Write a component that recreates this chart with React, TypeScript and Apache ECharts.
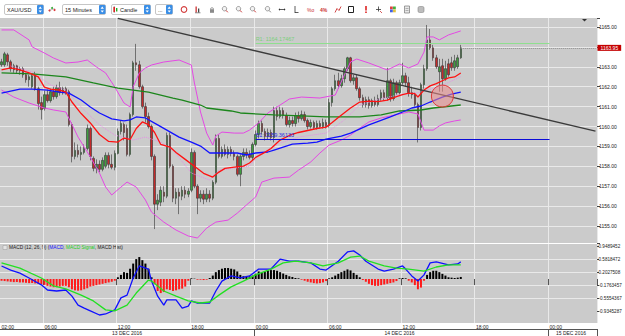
import React, { useEffect, useRef } from 'react';
import * as echarts from 'echarts';

// ---------- time categories (15-minute bars, with the daily trading break) ----------
const sessions: [string, string, string][] = [
  ['2016-12-13', '02:30', '21:45'],
  ['2016-12-13', '22:45', '23:45'],
  ['2016-12-14', '00:00', '23:45'],
  ['2016-12-15', '00:00', '03:45'],
];
const gridHours = ['00:00', '06:00', '12:00', '18:00'];
const monthNames: Record<string, string> = { '12': 'DEC' };

function toMin(t: string) {
  const [h, m] = t.split(':').map(Number);
  return h * 60 + m;
}
function pad(n: number) {
  return (n < 10 ? '0' : '') + n;
}
const times: string[] = [];
for (const [d, a, b] of sessions) {
  for (let m = toMin(a); m <= toMin(b); m += 15) {
    times.push(`${d} ${pad(Math.floor(m / 60))}:${pad(m % 60)}`);
  }
}

// ---------- XAU/USD 15-minute candles: [open, close, low, high] ----------
const candles: [number, number, number, number][] = [
  [1163.1, 1163.25, 1163.0, 1163.4], [1163.1, 1163.65, 1163.0, 1163.75], [1163.6, 1163.25, 1163.05, 1163.7],
  [1163.25, 1162.9, 1162.75, 1163.35], [1162.85, 1163.05, 1162.7, 1163.15], [1163.05, 1162.8, 1162.65, 1163.1],
  [1162.8, 1162.9, 1162.6, 1163.0], [1162.9, 1162.6, 1162.45, 1163.0], [1162.6, 1162.35, 1162.2, 1162.7],
  [1162.35, 1162.5, 1162.0, 1162.6], [1162.0, 1162.55, 1161.9, 1162.65], [1162.55, 1161.9, 1161.8, 1162.75],
  [1161.9, 1161.15, 1160.85, 1162.0], [1161.2, 1160.85, 1160.35, 1161.5], [1160.9, 1161.6, 1160.8, 1161.8],
  [1161.6, 1161.3, 1161.2, 1161.85], [1161.3, 1161.75, 1161.2, 1161.9], [1161.75, 1161.5, 1161.35, 1162.0],
  [1161.5, 1161.95, 1161.4, 1162.1], [1161.95, 1161.7, 1161.55, 1162.25], [1161.7, 1161.9, 1161.6, 1162.0],
  [1161.9, 1161.75, 1161.6, 1162.0], [1161.75, 1160.1, 1160.0, 1161.85], [1160.1, 1158.5, 1158.2, 1160.2],
  [1158.5, 1158.8, 1158.35, 1159.2], [1158.8, 1158.6, 1158.45, 1159.1], [1158.6, 1158.7, 1158.3, 1159.0],
  [1158.7, 1158.9, 1158.6, 1159.1], [1158.9, 1159.9, 1158.8, 1160.1], [1159.9, 1158.5, 1158.3, 1160.0],
  [1158.4, 1157.9, 1157.75, 1158.5], [1157.9, 1158.1, 1157.65, 1158.35], [1158.1, 1157.85, 1157.7, 1158.3],
  [1157.85, 1158.3, 1157.75, 1158.45], [1158.0, 1158.55, 1157.9, 1158.7], [1158.55, 1158.1, 1157.9, 1158.7],
  [1158.1, 1157.95, 1157.85, 1158.6], [1157.95, 1158.65, 1157.8, 1158.8], [1158.65, 1159.75, 1158.6, 1159.9],
  [1159.75, 1160.15, 1159.6, 1160.3], [1160.1, 1159.7, 1159.3, 1160.2], [1159.9, 1158.6, 1158.5, 1160.1],
  [1158.6, 1160.6, 1158.5, 1160.7], [1160.6, 1163.2, 1160.5, 1163.3], [1163.2, 1163.1, 1162.8, 1164.15],
  [1163.1, 1162.0, 1161.9, 1163.3], [1162.0, 1161.0, 1160.9, 1162.1], [1161.0, 1160.5, 1160.2, 1161.2],
  [1160.5, 1160.0, 1159.9, 1160.7], [1160.0, 1158.5, 1158.3, 1160.1], [1158.5, 1156.1, 1154.85, 1158.6],
  [1156.1, 1156.3, 1155.8, 1156.6], [1156.2, 1156.8, 1156.0, 1157.0], [1156.7, 1156.5, 1156.2, 1157.0],
  [1156.5, 1159.55, 1156.4, 1159.7], [1159.55, 1158.0, 1157.9, 1159.7], [1158.0, 1156.4, 1156.2, 1158.1],
  [1156.4, 1156.7, 1156.1, 1156.9], [1156.7, 1156.5, 1155.6, 1156.9], [1156.5, 1156.8, 1156.3, 1157.0],
  [1156.8, 1156.6, 1156.4, 1157.0], [1156.6, 1156.75, 1156.45, 1156.9], [1156.8, 1158.7, 1156.7, 1158.9],
  [1158.7, 1157.0, 1156.9, 1158.8], [1157.0, 1156.4, 1155.6, 1157.1], [1156.4, 1156.6, 1156.2, 1156.8],
  [1156.6, 1156.35, 1156.1, 1156.8], [1156.35, 1156.6, 1156.2, 1156.9], [1156.6, 1156.4, 1156.2, 1156.8],
  [1156.4, 1157.2, 1156.3, 1157.3], [1157.2, 1159.4, 1157.1, 1159.6], [1159.4, 1158.5, 1158.4, 1159.6],
  [1158.5, 1158.85, 1158.4, 1159.0], [1158.85, 1158.6, 1158.5, 1159.1], [1158.6, 1158.85, 1158.4, 1159.0],
  [1158.85, 1158.65, 1158.5, 1159.0], [1158.65, 1158.5, 1158.3, 1158.8], [1158.5, 1157.6, 1157.5, 1158.6],
  [1157.6, 1158.5, 1157.0, 1158.6], [1158.5, 1158.7, 1158.3, 1158.9], [1158.7, 1158.6, 1158.4, 1158.9],
  [1158.6, 1158.45, 1158.35, 1158.8], [1158.45, 1159.1, 1158.3, 1159.2], [1159.1, 1159.6, 1159.0, 1159.8],
  [1159.6, 1160.15, 1159.4, 1160.3], [1160.15, 1159.75, 1159.6, 1160.3], [1159.75, 1159.5, 1159.3, 1159.9],
  [1159.5, 1159.7, 1159.35, 1159.9], [1159.7, 1159.45, 1159.3, 1159.85], [1159.45, 1160.8, 1159.2, 1161.0],
  [1160.8, 1160.5, 1160.3, 1161.0], [1160.5, 1160.8, 1160.4, 1161.0], [1160.8, 1160.55, 1160.4, 1160.95],
  [1160.55, 1160.1, 1160.0, 1160.7], [1160.1, 1160.3, 1159.95, 1160.5], [1160.3, 1160.15, 1160.0, 1160.5],
  [1160.15, 1160.55, 1160.0, 1160.7], [1160.55, 1160.4, 1160.2, 1160.75], [1160.4, 1160.6, 1160.3, 1160.8],
  [1160.6, 1160.3, 1160.2, 1160.75], [1160.3, 1160.0, 1159.85, 1160.4], [1160.0, 1160.2, 1159.9, 1160.35],
  [1160.2, 1159.95, 1159.85, 1160.3], [1159.95, 1160.15, 1159.85, 1160.3], [1160.15, 1160.0, 1159.9, 1160.3],
  [1160.0, 1160.2, 1159.9, 1160.4], [1160.2, 1160.05, 1159.9, 1160.35], [1160.05, 1161.2, 1159.95, 1161.4],
  [1161.2, 1161.9, 1161.0, 1162.0], [1161.9, 1162.3, 1161.8, 1162.6], [1162.3, 1162.05, 1161.9, 1162.7],
  [1162.05, 1162.4, 1161.95, 1162.6], [1162.4, 1162.9, 1162.2, 1163.0], [1162.9, 1163.45, 1162.8, 1163.5],
  [1163.45, 1162.3, 1162.2, 1163.5], [1162.3, 1162.45, 1162.1, 1162.6], [1162.45, 1161.9, 1161.8, 1162.6],
  [1161.9, 1161.45, 1161.3, 1162.0], [1161.45, 1161.1, 1160.95, 1161.6], [1161.1, 1161.35, 1160.95, 1161.5],
  [1161.35, 1161.05, 1160.9, 1161.5], [1161.05, 1161.3, 1160.95, 1161.4], [1161.3, 1161.1, 1161.0, 1161.5],
  [1161.1, 1161.4, 1161.0, 1161.6], [1161.4, 1161.7, 1161.3, 1161.85], [1161.7, 1161.45, 1161.3, 1161.85],
  [1161.45, 1162.3, 1161.3, 1162.95], [1162.3, 1161.4, 1161.25, 1162.4], [1161.4, 1162.2, 1161.3, 1162.4],
  [1162.2, 1161.7, 1161.6, 1162.3], [1161.7, 1162.2, 1161.6, 1162.35], [1162.2, 1162.55, 1162.1, 1163.2],
  [1162.55, 1162.2, 1162.0, 1162.7], [1162.2, 1161.7, 1161.5, 1162.5], [1161.7, 1161.6, 1161.4, 1162.0],
  [1161.6, 1161.1, 1161.0, 1161.7], [1161.1, 1159.95, 1159.2, 1161.2], [1159.95, 1162.1, 1159.8, 1162.2],
  [1162.1, 1162.9, 1161.9, 1163.1], [1162.9, 1164.35, 1162.8, 1165.1], [1164.35, 1163.95, 1163.85, 1164.9],
  [1163.95, 1163.45, 1163.3, 1164.1], [1163.45, 1163.0, 1162.9, 1163.6], [1162.75, 1163.0, 1161.75, 1163.4],
  [1163.05, 1162.4, 1161.75, 1163.4], [1162.4, 1162.9, 1162.3, 1163.3], [1163.15, 1162.6, 1162.5, 1163.4],
  [1163.2, 1162.95, 1162.8, 1163.5], [1162.95, 1163.3, 1162.8, 1163.6], [1163.0, 1163.45, 1162.9, 1163.6],
  [1163.45, 1163.95, 1163.4, 1164.1],
];

// ---------- overlays: [bar index, value] ----------
const maRed: [number, number][] = [
  [0, 1162.84], [3, 1162.94], [6, 1162.84], [9, 1162.69], [12, 1162.49], [14, 1161.98], [16, 1161.88], [19, 1161.83],
  [21, 1161.73], [23, 1161.23], [26, 1160.65], [29, 1160.18], [32, 1159.6], [35, 1159.25], [38, 1159.22], [40, 1159.42],
  [42, 1159.35], [44, 1159.9], [46, 1160.23], [48, 1160.1], [50, 1159.7], [52, 1159.1], [55, 1158.97], [57, 1158.7],
  [60, 1158.35], [63, 1158.0], [66, 1157.65], [69, 1157.46], [71, 1157.71], [73, 1157.9], [76, 1157.96], [79, 1158.01],
  [81, 1158.17], [83, 1158.45], [86, 1158.7], [88, 1158.9], [91, 1159.32], [94, 1159.55], [97, 1159.7], [100, 1159.8],
  [103, 1159.9], [106, 1159.97], [108, 1160.2], [110, 1160.45], [114, 1160.93], [117, 1161.23], [120, 1161.28],
  [123, 1161.25], [126, 1161.33], [129, 1161.5], [131, 1161.6], [133, 1161.68], [135, 1161.65], [136, 1161.48],
  [138, 1161.83], [140, 1162.04], [142, 1162.15], [144, 1162.3], [146, 1162.44], [148, 1162.49], [150, 1162.69],
];
const maBlue: [number, number][] = [
  [0, 1161.68], [3, 1161.78], [6, 1161.88], [10, 1161.88], [15, 1161.83], [19, 1161.73], [22, 1161.68], [26, 1161.33],
  [29, 1160.98], [32, 1160.68], [36, 1160.38], [40, 1160.28], [42, 1160.33], [44, 1160.48], [47, 1160.43], [51, 1160.08],
  [54, 1159.82], [58, 1159.47], [62, 1159.22], [65, 1159.02], [68, 1158.67], [72, 1158.67], [77, 1158.67], [80, 1158.57],
  [83, 1158.67], [87, 1158.72], [89, 1158.82], [92, 1158.97], [95, 1159.12], [100, 1159.17], [103, 1159.22],
  [106, 1159.37], [111, 1159.52], [114, 1159.67], [120, 1160.08], [127, 1160.48], [131, 1160.73], [134, 1160.93],
  [137, 1161.03], [140, 1161.23], [144, 1161.48], [147, 1161.63], [150, 1161.73],
];
const maGreen: [number, number][] = [
  [0, 1162.69], [10, 1162.64], [21, 1162.49], [30, 1162.19], [38, 1161.93], [48, 1161.73], [56, 1161.43], [59, 1161.33],
  [65, 1161.08], [67, 1160.93], [75, 1160.78], [78, 1160.68], [89, 1160.58], [98, 1160.53], [106, 1160.48],
  [117, 1160.48], [124, 1160.58], [130, 1160.78], [137, 1160.83], [141, 1160.93], [150, 1161.08],
];
const bbUpper: [number, number][] = [
  [0, 1164.85], [4, 1164.85], [9, 1164.35], [10, 1164.0], [14, 1163.69], [17, 1163.44], [21, 1163.19], [25, 1163.24],
  [28, 1163.34], [31, 1162.99], [34, 1162.69], [37, 1161.98], [40, 1161.18], [42, 1160.98], [43, 1162.0], [45, 1162.69],
  [47, 1162.94], [49, 1163.09], [53, 1163.24], [58, 1163.34], [62, 1163.09], [63, 1162.19], [65, 1160.73], [67, 1159.67],
  [69, 1159.07], [70, 1159.52], [72, 1159.72], [76, 1159.67], [79, 1159.67], [81, 1159.82], [84, 1160.18], [87, 1160.68],
  [91, 1161.08], [94, 1161.38], [98, 1161.48], [104, 1161.43], [109, 1161.58], [112, 1162.59], [114, 1163.24],
  [116, 1163.39], [120, 1163.19], [126, 1162.84], [130, 1163.14], [133, 1162.94], [136, 1163.14], [138, 1163.74],
  [139, 1164.5], [141, 1164.5], [143, 1164.35], [146, 1164.6], [148, 1164.7], [150, 1164.8],
];
const bbLower: [number, number][] = [
  [0, 1161.83], [4, 1161.48], [9, 1161.18], [14, 1160.93], [17, 1160.83], [21, 1160.73], [25, 1159.47], [29, 1158.47],
  [32, 1157.66], [34, 1156.96], [36, 1156.56], [39, 1156.96], [41, 1157.21], [44, 1156.96], [47, 1156.31], [49, 1155.7],
  [53, 1155.2], [57, 1154.8], [61, 1154.5], [64, 1154.4], [67, 1154.9], [70, 1155.2], [74, 1155.3], [77, 1155.65],
  [80, 1156.06], [83, 1156.46], [85, 1157.21], [89, 1157.41], [94, 1157.46], [97, 1157.81], [101, 1158.22],
  [104, 1158.67], [107, 1159.07], [111, 1159.32], [114, 1159.57], [117, 1159.92], [120, 1160.23], [124, 1160.43],
  [127, 1160.53], [130, 1160.63], [133, 1160.73], [136, 1160.63], [137, 1160.23], [138, 1159.82], [141, 1159.82],
  [143, 1160.03], [145, 1160.18], [148, 1160.28], [150, 1160.33],
];
const bbMiddle: [number, number][] = [
  [3, 1163.04], [10, 1162.74], [16, 1162.09], [21, 1161.83], [26, 1160.98], [32, 1160.08], [37, 1159.57], [43, 1159.32],
  [47, 1159.47], [52, 1159.22], [56, 1158.82], [62, 1157.66], [68, 1157.31], [71, 1157.81], [81, 1158.01],
  [84, 1158.57], [91, 1159.17], [97, 1159.47], [106, 1159.67], [112, 1160.33], [117, 1161.08], [124, 1161.4],
  [130, 1161.6], [136, 1161.7], [143, 1162.0], [150, 1162.5],
];

// ---------- MACD (12, 26, 9) ----------
const macdLine: [number, number][] = [
  [0, 0.38], [3, 0.26], [6, 0.17], [9, 0.03], [13, -0.17], [15, -0.32], [18, -0.35], [21, -0.32], [23, -0.5], [25, -0.76],
  [27, -0.85], [29, -0.93], [32, -1.05], [34, -1.02], [37, -0.9], [39, -0.55], [41, -0.47], [43, 0.03], [45, 0.38],
  [48, 0.29], [49, -0.06], [51, -0.5], [53, -0.76], [54, -0.61], [57, -0.61], [59, -0.85], [61, -0.79], [62, -0.64],
  [64, -0.7], [68, -0.7], [70, -0.35], [72, -0.06], [75, 0.09], [78, 0.03], [81, 0.09], [84, 0.29], [88, 0.29],
  [91, 0.58], [94, 0.52], [97, 0.52], [101, 0.47], [104, 0.29], [106, 0.26], [110, 0.52], [113, 0.79], [115, 0.82],
  [117, 0.7], [119, 0.52], [123, 0.29], [125, 0.23], [128, 0.29], [131, 0.38], [132, 0.29], [134, 0.09], [136, -0.06],
  [138, 0.12], [140, 0.47], [142, 0.5], [146, 0.41], [149, 0.44], [150, 0.5],
];
const macdSignal: [number, number][] = [
  [0, 0.47], [6, 0.32], [13, 0.03], [17, -0.2], [21, -0.29], [26, -0.47], [30, -0.64], [34, -0.9], [37, -0.93],
  [41, -0.76], [44, -0.41], [48, -0.03], [49, -0.06], [53, -0.35], [57, -0.5], [61, -0.64], [65, -0.7], [68, -0.67],
  [71, -0.47], [75, -0.23], [79, -0.06], [83, 0.12], [88, 0.29], [92, 0.47], [96, 0.52], [101, 0.47], [105, 0.38],
  [110, 0.47], [114, 0.64], [117, 0.67], [120, 0.52], [125, 0.38], [129, 0.32], [133, 0.29], [138, 0.23], [142, 0.35],
  [146, 0.41], [150, 0.41],
];
const macdHist: number[] = [
  -0.05, -0.06, -0.07, -0.08, -0.09, -0.09, -0.1, -0.1, -0.11, -0.12,
  -0.12, -0.13, -0.14, -0.15, -0.17, -0.2, -0.22, -0.24, -0.24, -0.22,
  -0.2, -0.2, -0.24, -0.3, -0.33, -0.34, -0.33, -0.3, -0.27, -0.22,
  -0.2, -0.18, -0.16, -0.14, -0.12, -0.1, -0.08, -0.05, 0.05, 0.12,
  0.2, 0.18, 0.3, 0.45, 0.58, 0.64, 0.55, 0.45, 0.3, 0.05,
  -0.15, -0.35, -0.41, -0.38, -0.3, -0.32, -0.35, -0.33, -0.3, -0.28,
  -0.22, -0.05, 0.02, 0.01, -0.02, -0.02, -0.03, -0.02, 0.03, 0.1,
  0.2, 0.26, 0.3, 0.32, 0.32, 0.3, 0.28, 0.22, 0.12, 0.08,
  0.06, 0.08, 0.1, 0.15, 0.22, 0.2, 0.22, 0.25, 0.26, 0.26,
  0.24, 0.2, 0.16, 0.12, 0.08, 0.06, 0.03, 0.02, -0.02, -0.05,
  -0.08, -0.1, -0.12, -0.13, -0.12, -0.1, -0.06, 0.02, 0.05, 0.1,
  0.15, 0.2, 0.24, 0.28, 0.25, 0.18, 0.12, 0.05, -0.03, -0.08,
  -0.14, -0.18, -0.2, -0.2, -0.18, -0.16, -0.14, -0.12, -0.1, -0.06,
  0.02, 0.03, 0.02, -0.05, -0.1, -0.18, -0.3, -0.25, -0.05, 0.12,
  0.2, 0.24, 0.24, 0.2, 0.15, 0.1, 0.05, 0.04, 0.03, 0.04,
  0.06,
];
const macdTickLabels = ['-0.9345287', '-0.5554367', '-0.1763457', '0.2027508', '0.5818472', '0.9489452'];
const macdTicks = macdTickLabels.map(Number);

// ---------- drawn objects ----------
const levels = [
  { name: 'R1', value: 1164.17467, from: 83, to: 179, color: '#8fdf8f', text: '#7ccf7c' },
  { name: 'S1', value: 1159.36133, from: 83, to: 179, color: '#0b0bd8', text: '#2a2ae0' },
];
const trendLine: [number, number][] = [[38, 1165.43], [194, 1159.77]];
const circleMark: [number, number] = [144, 1161.53];

const FONT = '"Liberation Sans", Arial, sans-serif';

function buildToolbar(): any[] {
  const els: any[] = [];
  const controls = [
    { text: 'XAU/USD', x: 4, w: 39 },
    { text: '15 Minutes', x: 62, w: 43 },
    { text: 'Candle', x: 111, w: 39 },
    { text: '...', x: 155, w: 17 },
  ];
  controls.forEach((c, k) => {
    els.push({ type: 'rect', shape: { x: c.x + 0.5, y: 4.5, width: c.w, height: 10, r: 1.5 }, style: { fill: '#ffffff', stroke: '#b8b8b8', lineWidth: 0.8 } });
    els.push({ type: 'text', x: c.x + (k === 2 ? 9 : 3), y: 9.6, style: { text: c.text, fill: '#222', font: `5.5px ${FONT}`, verticalAlign: 'middle' } });
    const bx = c.x + c.w - 6;
    els.push({ type: 'rect', shape: { x: bx, y: 5, width: 6.5, height: 9, r: 1 }, style: { fill: '#3a8ee6' } });
    els.push({ type: 'polygon', shape: { points: [[bx + 1.6, 8.8], [bx + 4.9, 8.8], [bx + 3.25, 6.6]] }, style: { fill: '#fff' } });
    els.push({ type: 'polygon', shape: { points: [[bx + 1.6, 10.4], [bx + 4.9, 10.4], [bx + 3.25, 12.6]] }, style: { fill: '#fff' } });
  });
  // candle icon in the "Candle" box
  els.push({ type: 'line', shape: { x1: 114.2, y1: 6, x2: 114.2, y2: 13 }, style: { stroke: '#444', lineWidth: 0.5 } });
  els.push({ type: 'rect', shape: { x: 113.4, y: 7, width: 1.6, height: 5 }, style: { fill: '#d22' } });
  els.push({ type: 'rect', shape: { x: 116, y: 8, width: 1.4, height: 3.5 }, style: { fill: '#2a2' } });
  // small indicator icon next to the symbol box
  els.push({ type: 'circle', shape: { cx: 49.5, cy: 10.5, r: 1 }, style: { fill: '#d33' } });
  els.push({ type: 'circle', shape: { cx: 52, cy: 8, r: 1 }, style: { fill: '#3a3' } });
  els.push({ type: 'circle', shape: { cx: 54.5, cy: 10, r: 1 }, style: { fill: '#d33' } });
  els.push({ type: 'line', shape: { x1: 49.5, y1: 10.5, x2: 54.5, y2: 8.5 }, style: { stroke: '#777', lineWidth: 0.5 } });

  const xs = [184, 198, 212, 225, 239, 253, 268, 282, 296, 310, 323, 338, 351, 366, 379, 393, 407, 421];
  const cy = 9.5;
  xs.forEach((x, k) => {
    if (k === 0) {
      els.push({ type: 'circle', shape: { cx: x, cy, r: 2.8 }, style: { fill: 'none', stroke: '#d23a3a', lineWidth: 1.1 } });
    } else if (k === 1) {
      els.push({ type: 'rect', shape: { x: x - 2.5, y: 6.5, width: 1.3, height: 6 }, style: { fill: '#c33' } });
      els.push({ type: 'rect', shape: { x: x, y: 8.5, width: 1.3, height: 4 }, style: { fill: '#444' } });
      els.push({ type: 'line', shape: { x1: x - 3, y1: 12.8, x2: x + 2.5, y2: 12.8 }, style: { stroke: '#444', lineWidth: 0.6 } });
    } else if (k === 2) {
      els.push({ type: 'rect', shape: { x: x - 2, y: 9.2, width: 4, height: 3.6 }, style: { fill: '#8a8a8a' } });
      els.push({ type: 'arc', shape: { cx: x, cy: 9.2, r: 1.5, startAngle: Math.PI, endAngle: 2 * Math.PI }, style: { stroke: '#8a8a8a', lineWidth: 0.8, fill: 'none' } });
    } else if (k >= 3 && k <= 6) {
      const col = k === 6 ? '#888' : '#c83a3a';
      els.push({ type: 'circle', shape: { cx: x - 0.5, cy: cy - 0.8, r: 2.2 }, style: { fill: '#f3f3f3', stroke: '#777', lineWidth: 0.7 } });
      els.push({ type: 'line', shape: { x1: x + 1, y1: cy + 0.8, x2: x + 2.8, y2: cy + 2.8 }, style: { stroke: col, lineWidth: 1 } });
    } else if (k === 7) {
      els.push({ type: 'line', shape: { x1: x - 3, y1: cy, x2: x + 3, y2: cy }, style: { stroke: '#333', lineWidth: 0.8 } });
      els.push({ type: 'polygon', shape: { points: [[x - 3.5, cy], [x - 2, cy - 1.3], [x - 2, cy + 1.3]] }, style: { fill: '#333' } });
      els.push({ type: 'polygon', shape: { points: [[x + 3.5, cy], [x + 2, cy - 1.3], [x + 2, cy + 1.3]] }, style: { fill: '#333' } });
    } else if (k === 8) {
      els.push({ type: 'line', shape: { x1: x - 1, y1: cy - 3.5, x2: x - 1, y2: cy + 3.5 }, style: { stroke: '#333', lineWidth: 0.8 } });
      els.push({ type: 'line', shape: { x1: x - 1, y1: cy + 3, x2: x + 2.5, y2: cy + 3 }, style: { stroke: '#333', lineWidth: 0.8 } });
    } else if (k === 9) {
      els.push({ type: 'text', x: x - 3, y: cy, style: { text: '%o', fill: '#c33', font: `5px ${FONT}`, verticalAlign: 'middle' } });
    } else if (k === 10) {
      els.push({ type: 'text', x: x - 3, y: cy, style: { text: '4%', fill: '#c33', font: `bold 5px ${FONT}`, verticalAlign: 'middle' } });
    } else if (k === 11) {
      els.push({ type: 'polyline', shape: { points: [[x - 3, cy + 3], [x - 1, cy - 1], [x + 1, cy + 1], [x + 3, cy - 3]] }, style: { stroke: '#c33', lineWidth: 0.9, fill: 'none' } });
    } else if (k === 12) {
      els.push({ type: 'rect', shape: { x: x - 2.5, y: cy - 3, width: 5, height: 6 }, style: { fill: '#fff', stroke: '#222', lineWidth: 1 } });
    } else if (k === 13) {
      els.push({ type: 'rect', shape: { x: x - 0.8, y: cy - 3.5, width: 1.6, height: 4.5 }, style: { fill: '#d22' } });
      els.push({ type: 'rect', shape: { x: x - 0.8, y: cy + 2, width: 1.6, height: 1.5 }, style: { fill: '#d22' } });
    } else if (k === 14) {
      els.push({ type: 'line', shape: { x1: x - 3, y1: cy, x2: x + 2, y2: cy }, style: { stroke: '#333', lineWidth: 0.8 } });
      els.push({ type: 'line', shape: { x1: x - 0.5, y1: cy - 3, x2: x - 0.5, y2: cy + 2 }, style: { stroke: '#333', lineWidth: 0.8 } });
      els.push({ type: 'line', shape: { x1: x + 1, y1: cy + 1.5, x2: x + 3, y2: cy + 3.5 }, style: { stroke: '#c33', lineWidth: 0.8 } });
    } else if (k === 15) {
      const cols = ['#e04040', '#40b040', '#4060e0', '#e0c040'];
      cols.forEach((c, j) => {
        els.push({ type: 'rect', shape: { x: x - 3 + (j % 2) * 3, y: cy - 3 + Math.floor(j / 2) * 3, width: 2.8, height: 2.8 }, style: { fill: c } });
      });
    } else if (k === 16) {
      els.push({ type: 'rect', shape: { x: x - 2.5, y: cy - 3.5, width: 5, height: 7 }, style: { fill: '#e8e8e8', stroke: '#777', lineWidth: 0.7 } });
      els.push({ type: 'line', shape: { x1: x - 1.5, y1: cy - 1, x2: x + 1.5, y2: cy - 1 }, style: { stroke: '#777', lineWidth: 0.5 } });
      els.push({ type: 'line', shape: { x1: x - 1.5, y1: cy + 1, x2: x + 1.5, y2: cy + 1 }, style: { stroke: '#777', lineWidth: 0.5 } });
    } else if (k === 17) {
      els.push({ type: 'rect', shape: { x: x - 3, y: cy - 3, width: 6, height: 6, r: 1.5 }, style: { fill: '#bdbdbd', stroke: '#888', lineWidth: 0.6 } });
    }
  });
  // dropdown arrow at the top right of the chart area
  els.push({ type: 'polygon', shape: { points: [[582, 19], [587, 19], [584.5, 21.5]] }, style: { fill: '#333' } });
  return els;
}

export default function App() {
  const ref = useRef<HTMLDivElement>(null);

  useEffect(() => {
    if (!ref.current) return;
    const chart = echarts.init(ref.current, undefined, { renderer: 'svg' });

    const isGridIdx = (i: number, v: string) => i > 0 && gridHours.includes(String(v).slice(11));
    const isLabelIdx = (i: number, v: string) => i === 0 || gridHours.includes(String(v).slice(11));
    const dayOf = (v: string) => String(v).slice(0, 10);
    const dayStart = (i: number) => i > 0 && dayOf(times[i]) !== dayOf(times[i - 1]);
    const dayMid = new Set<number>();
    {
      let s = 0;
      for (let i = 1; i <= times.length; i++) {
        if (i === times.length || dayOf(times[i]) !== dayOf(times[s])) {
          dayMid.add(Math.floor((s + i - 1) / 2));
          s = i;
        }
      }
    }
    const last = candles[candles.length - 1][1];

    const splitCol = '#e9e9e9';
    const gridBg = '#cbcbcb';

    const line = (data: [number, number][], color: string, width: number, xi: number, yi: number, type = 'solid', z = 3) => ({
      type: 'line',
      data,
      xAxisIndex: xi,
      yAxisIndex: yi,
      showSymbol: false,
      symbol: 'none',
      smooth: false,
      silent: true,
      z,
      lineStyle: { color, width, type },
    });

    const option: any = {
      animation: false,
      backgroundColor: '#ffffff',
      textStyle: { fontFamily: FONT },
      grid: [
        { left: 0, right: 28, top: 18, height: 225, show: true, backgroundColor: gridBg, borderWidth: 0, containLabel: false, outerBoundsMode: 'none' },
        { left: 0, right: 28, top: 244, height: 79, show: true, backgroundColor: gridBg, borderWidth: 0, containLabel: false, outerBoundsMode: 'none' },
      ],
      xAxis: [
        {
          type: 'category', gridIndex: 0, data: times, boundaryGap: true,
          axisLine: { show: false }, axisTick: { show: false }, axisLabel: { show: false },
          splitLine: { show: true, interval: isGridIdx, lineStyle: { color: splitCol, width: 1 } },
        },
        {
          type: 'category', gridIndex: 1, data: times, boundaryGap: true,
          axisLine: { show: false },
          axisTick: { show: true, interval: isGridIdx, length: 6, lineStyle: { color: '#555', width: 1 } },
          axisLabel: {
            show: true, interval: isLabelIdx, align: 'left', fontSize: 5, color: '#222', margin: 1,
            formatter: (v: string, i: number) => (i === 0 ? v.slice(11, 13) + ':00' : v.slice(11)),
          },
          splitLine: { show: true, interval: isGridIdx, lineStyle: { color: splitCol, width: 1 } },
        },
        {
          type: 'category', gridIndex: 1, data: times, boundaryGap: true, position: 'bottom', offset: 6,
          axisLine: { show: true, lineStyle: { color: '#555', width: 1 } },
          axisTick: { show: true, interval: (i: number) => dayStart(i), length: 7, lineStyle: { color: '#555', width: 1 } },
          axisLabel: {
            show: true, interval: (i: number) => dayMid.has(i), fontSize: 5, color: '#222', margin: 1.5,
            formatter: (v: string) => `${v.slice(8, 10)} ${monthNames[v.slice(5, 7)]} ${v.slice(0, 4)}`,
          },
          splitLine: { show: false },
        },
      ],
      yAxis: [
        {
          type: 'value', gridIndex: 0, position: 'right', min: 1154.15, max: 1165.45, minInterval: 1, maxInterval: 1,
          axisLine: { show: false },
          axisTick: { show: true, length: 3, lineStyle: { color: '#444' } },
          axisLabel: {
            fontSize: 5, color: '#222', margin: 2,
            formatter: (v: number) => (Math.abs(v - Math.round(v)) < 1e-6 ? v.toFixed(2) : ''),
          },
          splitLine: { show: true, showMinLine: false, showMaxLine: false, lineStyle: { color: splitCol, width: 1 } },
        },
        {
          type: 'value', gridIndex: 1, position: 'right', min: -1.283, max: 1.021,
          axisLine: { show: false },
          axisTick: { show: true, length: 2, customValues: macdTicks, lineStyle: { color: '#444' } },
          axisLabel: {
            fontSize: 4.6, color: '#222', margin: 1.5, customValues: macdTicks,
            formatter: (v: number) => v.toFixed(7),
          },
          splitLine: { show: true, showMinLine: false, showMaxLine: false, lineStyle: { color: splitCol, width: 1 } },
        },
      ],
      series: [
        {
          type: 'candlestick',
          xAxisIndex: 0,
          yAxisIndex: 0,
          data: candles.map((c) => [c[0], c[1], c[2], c[3]]),
          barWidth: 2,
          clip: false,
          silent: true,
          itemStyle: {
            color: '#3e9e3e', color0: '#c42a2a',
            borderColor: '#333333', borderColor0: '#333333', borderWidth: 0.6,
          },
          markLine: {
            silent: true,
            symbol: ['none', 'none'],
            animation: false,
            data: [
              [
                { coord: trendLine[0], lineStyle: { color: '#3b3b3b', width: 1.3, type: 'solid' }, label: { show: false } },
                { coord: trendLine[1] },
              ],
              ...levels.map((l) => [
                {
                  coord: [l.from, l.value],
                  lineStyle: { color: l.color, width: 1.2, type: 'solid' },
                  label: {
                    show: true, position: 'insideStartTop', formatter: `${l.name}: ${l.value}`,
                    color: l.text, fontSize: 5.5, distance: [0, 1], fontFamily: FONT,
                  },
                },
                { coord: [l.to, l.value] },
              ]),
              [
                {
                  coord: [candles.length - 1, last],
                  lineStyle: { color: '#8c8c8c', width: 1, type: 'dotted' },
                  label: {
                    show: true, position: 'end', formatter: last.toFixed(2), color: '#ffffff',
                    backgroundColor: '#c40000', fontSize: 5, padding: [1, 3, 0, 3], distance: 2, fontFamily: FONT,
                  },
                },
                { coord: [times.length - 1, last] },
              ],
            ],
          },
          markPoint: {
            silent: true,
            animation: false,
            symbol: 'circle',
            symbolSize: 22,
            label: { show: false },
            itemStyle: { color: 'rgba(236,140,140,0.55)', borderColor: '#e03636', borderWidth: 1 },
            data: [{ coord: circleMark }],
          },
        },
        line(bbUpper, '#e448e4', 1, 0, 0),
        line(bbLower, '#e448e4', 1, 0, 0),
        line(bbMiddle, '#e58ee5', 1, 0, 0, 'dotted'),
        line(maGreen, '#1c861c', 1.3, 0, 0),
        line(maBlue, '#1212ff', 1.3, 0, 0),
        line(maRed, '#ff1212', 1.3, 0, 0),
        {
          type: 'bar',
          xAxisIndex: 1,
          yAxisIndex: 1,
          barWidth: 2,
          silent: true,
          data: macdHist.map((v) => ({ value: v, itemStyle: { color: v >= 0 ? '#000000' : '#ff1a1a' } })),
        },
        line(macdLine, '#1010ff', 1.3, 1, 1),
        line(macdSignal, '#22e022', 1.3, 1, 1),
      ],
      graphic: [
        ...buildToolbar(),
        { type: 'rect', shape: { x: 3, y: 245.5, width: 4, height: 4 }, style: { fill: '#e4e4e4', stroke: '#9a9a9a', lineWidth: 0.5 } },
        {
          type: 'text', x: 9, y: 247.8,
          style: {
            text: '{k|MACD (12, 26, 9) (}{b|MACD}{k|, }{g|MACD Signal}{k|, MACD Hist)}',
            verticalAlign: 'middle',
            rich: {
              k: { fill: '#1a1a1a', fontSize: 4.8, fontFamily: FONT },
              b: { fill: '#1010ff', fontSize: 4.8, fontFamily: FONT },
              g: { fill: '#22d022', fontSize: 4.8, fontFamily: FONT },
            },
          },
        },
      ],
    };

    chart.setOption(option);
    return () => chart.dispose();
  }, []);

  return <div ref={ref} style={{ position: 'fixed', left: 0, top: 0, width: 625, height: 336 }} />;
}
